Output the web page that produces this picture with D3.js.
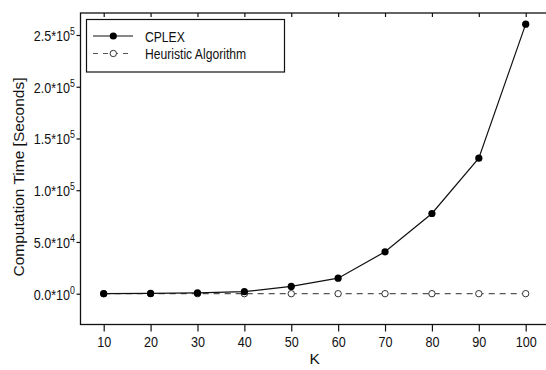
<!DOCTYPE html>
<meta charset="utf-8">
<style>
  body { margin: 0; padding: 0; background: white; }
  svg { background: white; display: block; }
  .tick-label { font-family: "Liberation Sans", Arial, sans-serif; font-size: 15px; fill: #111; }
  .title { font-family: "Liberation Sans", Arial, sans-serif; font-size: 15.5px; fill: #111; }
  .legend-text { font-family: "Liberation Sans", Arial, sans-serif; font-size: 15px; fill: #111; }
</style>
<script src="https://d3js.org/d3.v7.min.js"></script>
<svg id="vis"></svg>
<script>

// chart data
var kValues = [10, 20, 30, 40, 50, 60, 70, 80, 90, 100];
var cplex = [60, 300, 750, 2000, 7000, 15000, 40500, 77500, 131000, 260500];
var heuristic = [2, 3, 5, 7, 10, 14, 18, 23, 30, 38];
var seriesNames = ["CPLEX", "Heuristic Algorithm"];
var yTicks = [0, 50000, 100000, 150000, 200000, 250000];
var yTickMantissa = ["0.0", "5.0", "1.0", "1.5", "2.0", "2.5"];
var yTickExponent = ["0", "4", "5", "5", "5", "5"];

var width = 546, height = 370;
var frameL = 80.5, frameR = 549, frameT = 13, frameB = 324.5;
var squeeze = 0.84; // the reference font is narrower than Liberation Sans

var svg = d3.select("#vis").attr("width", width).attr("height", height);

var x = d3.scaleLinear().domain([10, 100]).range([103.7, 525.7]);
var y = d3.scaleLinear().domain([0, 250000]).range([293.7, 35]);

// frame
svg.append("rect")
  .attr("x", frameL).attr("y", frameT)
  .attr("width", frameR - frameL).attr("height", frameB - frameT)
  .attr("fill", "none").attr("stroke", "#111").attr("stroke-width", 1.3);

// bottom axis
var gx = svg.append("g").attr("transform", "translate(0," + frameB + ")")
  .call(d3.axisBottom(x).tickValues(kValues).tickSize(7).tickSizeOuter(0).tickFormat(""));
gx.select(".domain").remove();
gx.selectAll(".tick line").attr("stroke", "#111").attr("stroke-width", 1.2);
gx.selectAll(".tick").append("text")
  .attr("class", "tick-label")
  .attr("y", 22.5)
  .attr("text-anchor", "middle")
  .attr("transform", "scale(" + squeeze + ",1)")
  .text(function(d) { return d; });

// top axis (inner ticks)
var gt = svg.append("g").attr("transform", "translate(0," + frameT + ")")
  .call(d3.axisBottom(x).tickValues(kValues).tickSize(4).tickSizeOuter(0).tickFormat(""));
gt.select(".domain").remove();
gt.selectAll(".tick line").attr("stroke", "#111").attr("stroke-width", 1.2);

// left axis
var gy = svg.append("g").attr("transform", "translate(" + frameL + ",0)")
  .call(d3.axisLeft(y).tickValues(yTicks).tickSize(4).tickSizeOuter(0).tickFormat(""));
gy.select(".domain").remove();
gy.selectAll(".tick line").attr("stroke", "#111").attr("stroke-width", 1.2);
gy.selectAll(".tick").each(function(d, i) {
  var t = d3.select(this).append("text")
    .attr("class", "tick-label")
    .attr("x", -5.5 / squeeze)
    .attr("y", 5.5)
    .attr("text-anchor", "end")
    .attr("transform", "scale(" + squeeze + ",1)");
  t.append("tspan").text(yTickMantissa[i] + "*10");
  t.append("tspan").attr("dy", -6).attr("font-size", "10.5px").text(yTickExponent[i]);
});

// right axis (inner ticks)
var gr = svg.append("g").attr("transform", "translate(" + frameR + ",0)")
  .call(d3.axisLeft(y).tickValues(yTicks).tickSize(-7).tickSizeOuter(0).tickFormat(""));
gr.select(".domain").remove();
gr.selectAll(".tick line").attr("stroke", "#111").attr("stroke-width", 1.2);

// axis titles
svg.append("text")
  .attr("class", "title")
  .attr("x", (frameL + frameR) / 2)
  .attr("y", 364)
  .attr("text-anchor", "middle")
  .text("K");

svg.append("text")
  .attr("class", "title")
  .attr("transform", "translate(24,177) rotate(-90)")
  .attr("text-anchor", "middle")
  .text("Computation Time [Seconds]");

var line = d3.line()
  .x(function(d, i) { return x(kValues[i]); })
  .y(function(d) { return y(d); });

// heuristic (dashed, open markers)
svg.append("path")
  .datum(heuristic)
  .attr("d", line)
  .attr("fill", "none")
  .attr("stroke", "#555")
  .attr("stroke-width", 1.3)
  .attr("stroke-dasharray", "6,5");

// cplex (solid, filled markers)
svg.append("path")
  .datum(cplex)
  .attr("d", line)
  .attr("fill", "none")
  .attr("stroke", "#111")
  .attr("stroke-width", 1.2);

svg.selectAll(".hdot")
  .data(heuristic)
  .enter().append("circle")
  .attr("class", "hdot")
  .attr("cx", function(d, i) { return x(kValues[i]); })
  .attr("cy", function(d) { return y(d); })
  .attr("r", 3.2)
  .attr("fill", "white")
  .attr("stroke", "#333")
  .attr("stroke-width", 1);

svg.selectAll(".cdot")
  .data(cplex)
  .enter().append("circle")
  .attr("class", "cdot")
  .attr("cx", function(d, i) { return x(kValues[i]); })
  .attr("cy", function(d) { return y(d); })
  .attr("r", 3.6)
  .attr("fill", "#000");

// legend
var legend = svg.append("g");
legend.append("rect")
  .attr("x", 86.5).attr("y", 19.5)
  .attr("width", 198).attr("height", 52.5)
  .attr("fill", "white").attr("stroke", "#111").attr("stroke-width", 1.2);

var legendY = [36, 53.5];
legend.append("line")
  .attr("x1", 93).attr("x2", 133).attr("y1", legendY[0]).attr("y2", legendY[0])
  .attr("stroke", "#111").attr("stroke-width", 1.2);
legend.append("circle")
  .attr("cx", 113.3).attr("cy", legendY[0]).attr("r", 3.6).attr("fill", "#000");
legend.append("line")
  .attr("x1", 93).attr("x2", 133).attr("y1", legendY[1]).attr("y2", legendY[1])
  .attr("stroke", "#555").attr("stroke-width", 1.2).attr("stroke-dasharray", "5,5");
legend.append("circle")
  .attr("cx", 113.3).attr("cy", legendY[1]).attr("r", 3.2)
  .attr("fill", "white").attr("stroke", "#333").attr("stroke-width", 1);

legend.selectAll(".legend-text")
  .data(seriesNames)
  .enter().append("text")
  .attr("class", "legend-text")
  .attr("transform", function(d, i) { return "translate(145," + (legendY[i] + 5.5) + ") scale(0.81,1)"; })
  .text(function(d) { return d; });

</script>
